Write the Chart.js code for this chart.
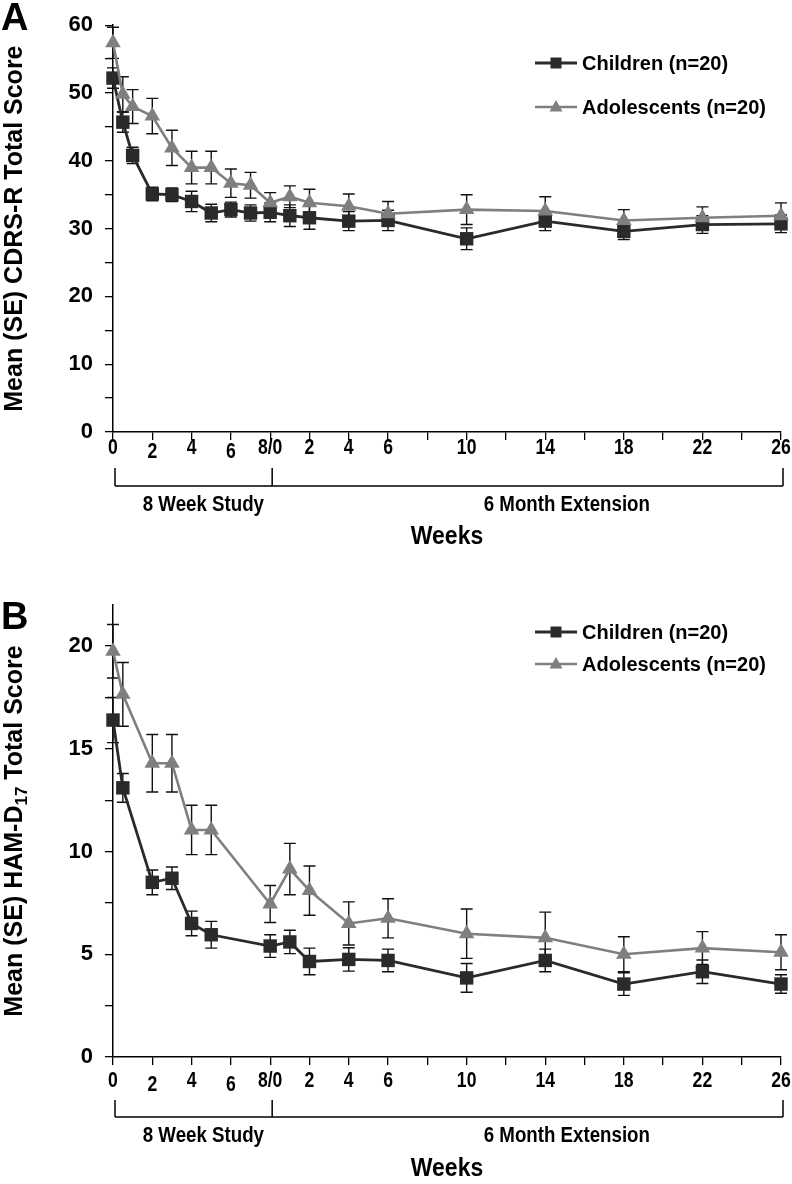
<!DOCTYPE html>
<html>
<head>
<meta charset="utf-8">
<script src="https://cdn.jsdelivr.net/npm/chart.js@4.4.0/dist/chart.umd.min.js"></script>
<style>
  html, body { margin: 0; padding: 0; background: #fff; }
  #wrap { position: relative; width: 792px; height: 1184px; }
  .panel { position: absolute; left: 0; width: 792px; }
  #panelA { top: 0; height: 560px; }
  #panelB { top: 560px; height: 624px; }
</style>
</head>
<body>
<div id="wrap">
  <div class="panel" id="panelA"><canvas id="chartA" width="792" height="560"></canvas></div>
  <div class="panel" id="panelB"><canvas id="chartB" width="792" height="624"></canvas></div>
</div>
<script>
// ============================================================================
// Dos paneles: CDRS-R (A) y HAM-D17 (B), niños vs adolescentes, media ± SE.
// Eje x continuo en semanas: estudio 0–8, la extensión se dibuja en 8 + semana.
// ============================================================================

// --- Datos ------------------------------------------------------------------
const semanasA = [0, 0.5, 1, 2, 3, 4, 5, 6, 7, 8, 9, 10, 12, 14, 18, 22, 26, 30, 34];
const ninosA = [52.2, 45.7, 40.8, 35.1, 35.0, 34.0, 32.3, 32.8, 32.3, 32.4, 31.9, 31.6, 31.1, 31.2, 28.5, 31.1, 29.6, 30.6, 30.7];
const ninosA_se = [1.5, 1.5, 1.2, 1.0, 1.0, 1.5, 1.3, 1.1, 1.2, 1.4, 1.6, 1.7, 1.4, 1.5, 1.6, 1.4, 1.2, 1.3, 1.3];
const adolesA = [57.4, 49.8, 48.0, 46.6, 41.9, 39.0, 39.0, 36.7, 36.4, 33.8, 34.7, 33.8, 33.3, 32.2, 32.8, 32.6, 31.2, 31.6, 31.9];
const adolesA_se = [2.3, 2.6, 2.5, 2.6, 2.6, 2.4, 2.4, 2.1, 1.9, 1.5, 1.6, 2.0, 1.8, 1.8, 2.2, 2.1, 1.6, 1.6, 1.9];

const semanasB = [0, 0.5, 2, 3, 4, 5, 8, 9, 10, 12, 14, 18, 22, 26, 30, 34];
const ninosB = [16.4, 13.1, 8.5, 8.7, 6.5, 5.95, 5.4, 5.6, 4.65, 4.75, 4.7, 3.85, 4.7, 3.55, 4.15, 3.55];
const ninosB_se = [1.1, 0.7, 0.6, 0.55, 0.6, 0.65, 0.55, 0.57, 0.65, 0.57, 0.55, 0.7, 0.55, 0.55, 0.57, 0.45];
const adolesB = [19.75, 17.65, 14.3, 14.3, 11.05, 11.05, 7.45, 9.15, 8.1, 6.5, 6.75, 6.0, 5.8, 5.0, 5.3, 5.1];
const adolesB_se = [1.3, 1.55, 1.4, 1.4, 1.2, 1.2, 0.9, 1.25, 1.2, 1.05, 0.95, 1.2, 1.25, 0.85, 0.8, 0.85];

// marcas del eje x (cada 2 semanas) y las que llevan texto
const ticksX = [0, 2, 4, 6, 8, 10, 12, 14, 16, 18, 20, 22, 24, 26, 28, 30, 32, 34];
const valoresEtiquetaX = [0, 2, 4, 6, 8, 10, 12, 14, 18, 22, 26, 30, 34];
const textosEtiquetaX = ['0', '2', '4', '6', '8/0', '2', '4', '6', '10', '14', '18', '22', '26'];

const SERIES = ['Children (n=20)', 'Adolescents (n=20)'];
const FASES = ['8 Week Study', '6 Month Extension'];
const LIMITES_FASE = [0, 8, 34];

const NEGRO = '#000000';
const OSCURO = '#2a2a2a';
const GRIS = '#7f7f7f';
const FUENTE = "'Liberation Sans', Arial, sans-serif";

Chart.defaults.font.family = FUENTE;
Chart.defaults.color = NEGRO;

const puntos = (xs, ys) => xs.map((x, i) => ({ x, y: ys[i] }));

// texto "angosto": Liberation Sans comprimido en horizontal
function textoAngosto(ctx, t, x, y, escala) {
  ctx.save();
  ctx.translate(x, y);
  ctx.scale(escala, 1);
  ctx.fillText(t, 0, 0);
  ctx.restore();
}

// --- Plugin: barras de error -------------------------------------------------
const barrasError = {
  id: 'barrasError',
  beforeDatasetsDraw(chart) {
    const { ctx } = chart;
    const sx = chart.scales.x, sy = chart.scales.y;
    ctx.save();
    ctx.strokeStyle = '#111';
    ctx.lineWidth = 1.4;
    chart.data.datasets.forEach((ds) => {
      ds.data.forEach((p, i) => {
        const se = ds.errores[i];
        const x = sx.getPixelForValue(p.x);
        const y1 = sy.getPixelForValue(p.y + se);
        const y2 = sy.getPixelForValue(p.y - se);
        ctx.beginPath();
        ctx.moveTo(x, y1); ctx.lineTo(x, y2);
        ctx.moveTo(x - 6, y1); ctx.lineTo(x + 6, y1);
        ctx.moveTo(x - 6, y2); ctx.lineTo(x + 6, y2);
        ctx.stroke();
      });
    });
    ctx.restore();
  },
};

// --- Plugin: textos fuera del área (título y, letra, etiquetas x, llave, leyenda)
const anotaciones = {
  id: 'anotaciones',
  afterDraw(chart, args, op) {
    const { ctx, chartArea } = chart;
    const sx = chart.scales.x;
    ctx.save();
    ctx.fillStyle = NEGRO;

    // letra del panel
    ctx.font = 'bold 38px ' + FUENTE;
    ctx.textAlign = 'left';
    ctx.textBaseline = 'alphabetic';
    ctx.fillText(op.letra, 1, op.letraY);

    // título del eje y (con subíndice opcional)
    ctx.save();
    ctx.translate(op.tituloX, (chartArea.top + chartArea.bottom) / 2);
    ctx.rotate(-Math.PI / 2);
    ctx.textBaseline = 'middle';
    const fNormal = 'bold 25px ' + FUENTE;
    const fSub = 'bold 17px ' + FUENTE;
    let ancho = 0;
    op.titulo.forEach(([t, sub]) => { ctx.font = sub ? fSub : fNormal; ancho += ctx.measureText(t).width; });
    let cx = -ancho / 2;
    ctx.textAlign = 'left';
    op.titulo.forEach(([t, sub]) => {
      ctx.font = sub ? fSub : fNormal;
      ctx.fillText(t, cx, sub ? 7 : 0);
      cx += ctx.measureText(t).width;
    });
    ctx.restore();

    // etiquetas del eje x (fuente angosta), en la posición de cada marca
    ctx.textAlign = 'center';
    ctx.textBaseline = 'middle';
    ctx.font = 'bold 22px ' + FUENTE;
    valoresEtiquetaX.forEach((v, i) => {
      const baja = (v === 2 || v === 6) ? 4 : 0;
      textoAngosto(ctx, textosEtiquetaX[i], sx.getPixelForValue(v), chartArea.bottom + op.etiquetaDy + baja, 0.8);
    });

    // llave de fases bajo el eje x
    const yTop = chartArea.bottom + op.llaveArriba;
    const yBase = chartArea.bottom + op.llaveAbajo;
    const xs = LIMITES_FASE.map((v) => sx.getPixelForValue(v) + 2);
    ctx.strokeStyle = NEGRO;
    ctx.lineWidth = 1.5;
    ctx.beginPath();
    xs.forEach((x) => { ctx.moveTo(x, yTop); ctx.lineTo(x, yBase); });
    ctx.moveTo(xs[0], yBase); ctx.lineTo(xs[xs.length - 1], yBase);
    ctx.stroke();

    ctx.font = 'bold 22px ' + FUENTE;
    FASES.forEach((t, i) => {
      textoAngosto(ctx, t, sx.getPixelForValue(op.centrosFase[i]), chartArea.bottom + op.faseDy, 0.85);
    });
    ctx.font = 'bold 25px ' + FUENTE;
    textoAngosto(ctx, 'Weeks', sx.getPixelForValue(op.centroWeeks), chartArea.bottom + op.weeksDy, 0.92);

    // leyenda
    ctx.font = 'bold 20px ' + FUENTE;
    ctx.textAlign = 'left';
    chart.data.datasets.forEach((ds, i) => {
      const y = op.leyendaY[i];
      ctx.strokeStyle = ds.borderColor;
      ctx.lineWidth = ds.borderWidth;
      ctx.beginPath();
      ctx.moveTo(op.leyendaX, y); ctx.lineTo(op.leyendaX + 42, y);
      ctx.stroke();
      ctx.fillStyle = ds.pointBackgroundColor;
      ctx.beginPath();
      if (ds.pointStyle === 'rect') {
        ctx.rect(op.leyendaX + 21 - 5.5, y - 5.5, 11, 11);
      } else {
        ctx.moveTo(op.leyendaX + 21, y - 7);
        ctx.lineTo(op.leyendaX + 21 + 6.5, y + 4.5);
        ctx.lineTo(op.leyendaX + 21 - 6.5, y + 4.5);
        ctx.closePath();
      }
      ctx.fill();
      ctx.fillStyle = NEGRO;
      ctx.fillText(SERIES[i], op.leyendaX + 47, y + 1);
    });
    ctx.restore();
  },
};

function datasets(xs, ninos, ninosSe, adoles, adolesSe) {
  return [
    {
      label: SERIES[0],
      data: puntos(xs, ninos),
      errores: ninosSe,
      borderColor: OSCURO,
      borderWidth: 2.8,
      pointStyle: 'rect',
      pointRadius: 9.5,
      pointBackgroundColor: OSCURO,
      pointBorderColor: OSCURO,
      pointBorderWidth: 0,
      order: 2,
      clip: false,
    },
    {
      label: SERIES[1],
      data: puntos(xs, adoles),
      errores: adolesSe,
      borderColor: GRIS,
      borderWidth: 2.6,
      pointStyle: 'triangle',
      pointRadius: 9,
      pointBackgroundColor: GRIS,
      pointBorderColor: GRIS,
      pointBorderWidth: 0,
      order: 1,
      clip: false,
    },
  ];
}

function crearPanel(canvasId, cfg) {
  return new Chart(document.getElementById(canvasId), {
    type: 'line',
    data: { datasets: cfg.datasets },
    plugins: [barrasError, anotaciones],
    options: {
      responsive: false,
      animation: false,
      devicePixelRatio: 1,
      layout: { padding: { top: cfg.arriba, right: 11, left: 0, bottom: 0 } },
      plugins: {
        legend: { display: false },
        tooltip: { enabled: false },
        anotaciones: cfg.anot,
      },
      scales: {
        x: {
          type: 'linear',
          min: 0,
          max: 34,
          afterBuildTicks: (s) => { s.ticks = ticksX.map((v) => ({ value: v })); },
          afterFit: (s) => { s.height = cfg.altoX; },
          ticks: { display: false, autoSkip: false, maxRotation: 0 },
          grid: { drawOnChartArea: false, drawTicks: true, tickLength: 8, color: NEGRO, lineWidth: 1.3 },
          border: { color: NEGRO, width: 1.5 },
        },
        y: {
          min: 0,
          max: cfg.maxY,
          afterFit: (s) => { s.width = 113; },
          ticks: {
            stepSize: cfg.pasoY,
            includeBounds: false,
            autoSkip: false,
            padding: 12,
            color: NEGRO,
            font: { size: 22, weight: 'bold' },
            callback: (v) => (v % cfg.etiquetaY === 0 ? v : ''),
          },
          grid: { drawOnChartArea: false, drawTicks: true, tickLength: 8, color: NEGRO, lineWidth: 1.3 },
          border: { color: NEGRO, width: 1.5 },
        },
      },
    },
  });
}

crearPanel('chartA', {
  datasets: datasets(semanasA, ninosA, ninosA_se, adolesA, adolesA_se),
  arriba: 14,
  altoX: 128,
  maxY: 60,
  pasoY: 5,
  etiquetaY: 10,
  anot: {
    letra: 'A',
    letraY: 30,
    titulo: [['Mean (SE) CDRS-R Total Score', false]],
    tituloX: 15,
    etiquetaDy: 16,
    llaveArriba: 36,
    llaveAbajo: 54,
    faseDy: 73,
    centrosFase: [4.6, 23.1],
    centroWeeks: 17,
    weeksDy: 105,
    leyendaX: 535,
    leyendaY: [63, 107],
  },
});

crearPanel('chartB', {
  datasets: datasets(semanasB, ninosB, ninosB_se, adolesB, adolesB_se),
  arriba: 45,
  altoX: 127,
  maxY: 22,
  pasoY: 2.5,
  etiquetaY: 5,
  anot: {
    letra: 'B',
    letraY: 69,
    titulo: [['Mean (SE) HAM-D', false], ['17', true], [' Total Score', false]],
    tituloX: 15,
    etiquetaDy: 24,
    llaveArriba: 43,
    llaveAbajo: 60,
    faseDy: 79,
    centrosFase: [4.6, 23.1],
    centroWeeks: 17,
    weeksDy: 112,
    leyendaX: 535,
    leyendaY: [72, 104],
  },
});
</script>
</body>
</html>
